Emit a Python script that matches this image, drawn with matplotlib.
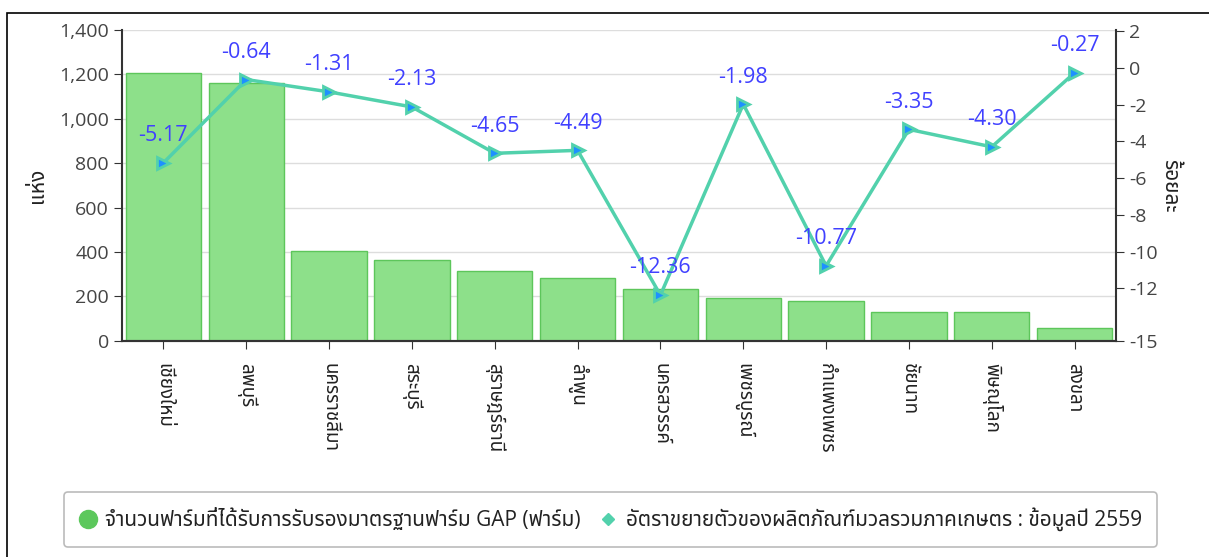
import matplotlib
matplotlib.use('Agg')
import matplotlib.pyplot as plt
from matplotlib import font_manager
from matplotlib.lines import Line2D
from matplotlib.patches import Rectangle

provinces = ['เชียงใหม่', 'ลพบุรี', 'นครราชสีมา', 'สระบุรี', 'สุราษฎร์ธานี', 'ลำพูน',
             'นครสวรรค์', 'เพชรบูรณ์', 'กำแพงเพชร', 'ชัยนาท', 'พิษณุโลก', 'สงขลา']
gap_farms = [1208, 1163, 404, 364, 316, 283, 233, 193, 179, 131, 131, 57]
growth = [-5.17, -0.64, -1.31, -2.13, -4.65, -4.49, -12.36, -1.98, -10.77, -3.35, -4.30, -0.27]

left_ticks = [0, 200, 400, 600, 800, 1000, 1200, 1400]
right_ticks = [-14.85, -12, -10, -8, -6, -4, -2, 0, 2]
right_labels = ['-15', '-12', '-10', '-8', '-6', '-4', '-2', '0', '2']

bar_label = 'จำนวนฟาร์มที่ได้รับการรับรองมาตรฐานฟาร์ม GAP (ฟาร์ม)'
line_label = 'อัตราขยายตัวของผลิตภัณฑ์มวลรวมภาคเกษตร : ข้อมูลปี 2559'

# pick a Thai-capable font among what is installed
installed = {f.name for f in font_manager.fontManager.ttflist}
thai_font = next((n for n in ['Noto Sans Thai', 'Sarabun', 'IBM Plex Sans Thai',
                              'Noto Sans Thai Looped', 'Anuphan', 'Athiti']
                  if n in installed), 'DejaVu Sans')
plt.rcParams['font.family'] = ['Open Sans', thai_font]

TEXT = '#444444'
TEAL = '#52d1ac'
BLUE_LBL = '#4040ff'

fig = plt.figure(figsize=(12.09, 5.57), dpi=100)
ax = fig.add_axes([0.1009, 0.388, 0.8222, 0.558])
ax2 = ax.twinx()

x = range(len(provinces))
ax.bar(x, gap_farms, width=0.91, color='#8de08a', edgecolor='#5dc65b', linewidth=1, zorder=2)
ax.set_xlim(-0.5, len(provinces) - 0.5)
ax.set_ylim(0, 1400)
ax.set_yticks(left_ticks)
ax.set_yticklabels([f'{v:,}' for v in left_ticks])
ax.set_xticks(list(x))
ax.set_xticklabels(provinces, rotation=-90, fontsize=13.5, color='#222222')
ax.grid(axis='y', color='#dddddd', linewidth=1, zorder=0)
ax.set_axisbelow(True)
ax.set_ylabel('แห่ง', fontsize=15, color='#222222', labelpad=8)
ax.tick_params(axis='y', labelsize=14, labelcolor=TEXT, length=6, color='#333333')
ax.tick_params(axis='x', length=6, color='#333333', pad=10)

ax2.plot(x, growth, color=TEAL, linewidth=2.5, marker='>', markersize=9,
         markerfacecolor='#1e90ff', markeredgecolor=TEAL, markeredgewidth=2, zorder=3)
for xi, g in zip(x, growth):
    ax2.annotate(f'{g:.2f}', (xi, g), xytext=(0, 12), textcoords='offset points',
                 ha='center', va='bottom', fontsize=15.5, color=BLUE_LBL)
ax2.set_ylim(-14.85, 2.05)
ax2.set_yticks(right_ticks)
ax2.set_yticklabels(right_labels)
ax2.tick_params(axis='y', labelsize=14, labelcolor=TEXT, length=6, color='#333333')
ax2.set_ylabel('ร้อยละ', fontsize=15, color='#222222', rotation=-90, labelpad=16)

for a in (ax, ax2):
    a.spines['top'].set_visible(False)
    for s in ('left', 'right', 'bottom'):
        a.spines[s].set_color('#333333')
        a.spines[s].set_linewidth(1.5)
ax.spines['right'].set_visible(False)
ax2.spines['left'].set_visible(False)

handles = [
    Line2D([0], [0], marker='o', color='w', markerfacecolor='#5cc85c',
           markeredgecolor='#5cc85c', markersize=13, label=bar_label),
    Line2D([0], [0], marker='D', color='w', markerfacecolor=TEAL,
           markeredgecolor=TEAL, markersize=6, label=line_label),
]
leg = fig.legend(handles=handles, loc='center', bbox_to_anchor=(0.505, 0.068), ncol=2,
                 fontsize=15, frameon=True, fancybox=True, edgecolor='#aaaaaa',
                 handlelength=0.8, handletextpad=0.45, columnspacing=0.9,
                 borderpad=0.75, borderaxespad=0)
leg.get_frame().set_linewidth(1.2)
for t in leg.get_texts():
    t.set_color('#222222')

fig.patches.append(Rectangle((7 / 1209, -0.1), 1.1, 1 - 13 / 557 + 0.1,
                             transform=fig.transFigure, fill=False,
                             edgecolor='black', linewidth=1.2))

fig.savefig('out.png', dpi=100)
